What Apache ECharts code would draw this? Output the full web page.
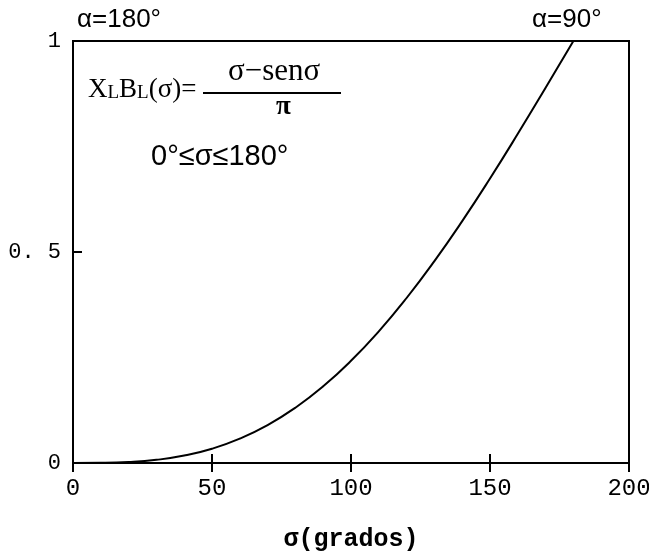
<!DOCTYPE html>
<html>
<head>
<meta charset="utf-8">
<script src="https://cdn.jsdelivr.net/npm/echarts@6/dist/echarts.min.js"></script>
<style>html,body{margin:0;padding:0;background:#fff;}#c{width:649px;height:553px;}</style>
</head>
<body>
<div id="c"></div>
<script>
// sigma in degrees
const sigmaDeg = [0, 10, 20, 30, 40, 50, 60, 70, 80, 90, 100, 110, 120, 130, 140, 150, 160, 170, 180];
// X_LBL values
const xlblValues = [0, 0.0003, 0.0022, 0.0075, 0.0176, 0.0339, 0.0577, 0.0898, 0.131, 0.1817, 0.2421, 0.312, 0.391, 0.4784, 0.5732, 0.6742, 0.78, 0.8892, 1.0];
const xTickLabels = ['0', '50', '100', '150', '200'];
const yTickLabels = ['0', '0. 5', '1'];

const monoFont = '"Liberation Mono", "DejaVu Sans Mono", monospace';
const serifFont = '"Liberation Serif", "DejaVu Serif", serif';
const sansFont = '"Liberation Sans", sans-serif';

const chart = echarts.init(document.getElementById('c'), null, {renderer: 'canvas'});
const data = sigmaDeg.map((s, i) => [s, xlblValues[i]]);

chart.setOption({
  animation: false,
  backgroundColor: '#fff',
  grid: {left: 73, right: 20, top: 41, bottom: 90, show: true, borderColor: '#000', borderWidth: 2,
    backgroundColor: 'transparent', containLabel: false, outerBoundsMode: 'none'},
  xAxis: [{
    type: 'value', min: 0, max: 200, interval: 50, position: 'bottom',
    axisLine: {show: true, onZero: false, lineStyle: {color: '#000', width: 2}},
    axisTick: {show: true, inside: true, length: 9, lineStyle: {color: '#000', width: 2}},
    splitLine: {show: false},
    axisLabel: {color: '#000', fontFamily: monoFont, fontSize: 24, margin: 14,
      formatter: v => xTickLabels[Math.round(v / 50)]},
    name: 'σ(grados)', nameLocation: 'middle', nameGap: 64,
    nameTextStyle: {color: '#000', fontFamily: monoFont, fontSize: 25, fontWeight: 'bold'}
  }, {
    type: 'value', min: 0, max: 200, interval: 50, position: 'top',
    axisLine: {show: true, lineStyle: {color: '#000', width: 2}},
    axisTick: {show: true, inside: true, length: 9, lineStyle: {color: '#000', width: 2}},
    axisLabel: {show: false}, splitLine: {show: false}
  }],
  yAxis: [{
    type: 'value', min: 0, max: 1, interval: 0.5, position: 'left',
    axisLine: {show: true, onZero: false, lineStyle: {color: '#000', width: 2}},
    axisTick: {show: true, inside: true, length: 9, lineStyle: {color: '#000', width: 2}},
    splitLine: {show: false},
    axisLabel: {color: '#000', fontFamily: monoFont, fontSize: 22, margin: 12,
      formatter: v => yTickLabels[Math.round(v / 0.5)]}
  }, {
    type: 'value', min: 0, max: 1, interval: 0.5, position: 'right',
    axisLine: {show: true, lineStyle: {color: '#000', width: 2}},
    axisTick: {show: false}, axisLabel: {show: false}, splitLine: {show: false}
  }],
  series: [{
    type: 'line', data: data, smooth: true, symbol: 'none',
    xAxisIndex: 0, yAxisIndex: 0,
    lineStyle: {color: '#000', width: 2}
  }],
  graphic: [
    {type: 'text', left: 77, top: 7, style: {text: 'α=180°', font: '26px ' + sansFont, fill: '#000'}},
    {type: 'text', left: 532, top: 7, style: {text: 'α=90°', font: '26px ' + sansFont, fill: '#000'}},
    {type: 'text', left: 88, top: 76, style: {
      text: '{b|X}{s|L}{b|B}{s|L}{b|(σ)=}',
      rich: {
        b: {fontFamily: serifFont, fontSize: 27, color: '#000'},
        s: {fontFamily: serifFont, fontSize: 19, color: '#000', verticalAlign: 'bottom'}
      }
    }},
    {type: 'line', shape: {x1: 203, y1: 93, x2: 341, y2: 93}, style: {stroke: '#000', lineWidth: 2}},
    {type: 'text', left: 228, top: 56, style: {text: 'σ−senσ', font: '31px ' + serifFont, fill: '#000'}},
    {type: 'text', left: 276, top: 94, style: {text: 'π', font: 'bold 27px ' + serifFont, fill: '#000'}},
    {type: 'text', left: 151, top: 142, style: {text: '0°≤σ≤180°', font: '29px ' + sansFont, fill: '#000'}}
  ]
});
</script>
</body>
</html>
